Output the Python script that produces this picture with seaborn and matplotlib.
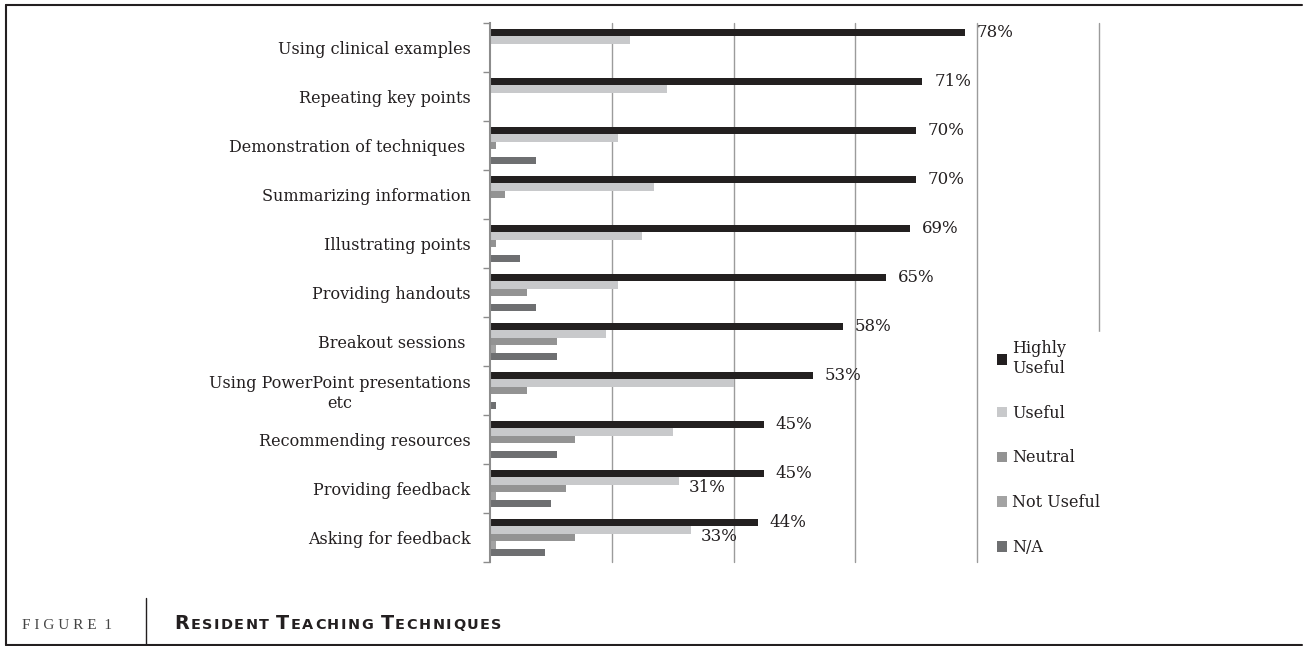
import matplotlib.pyplot as plt
import seaborn as sns
import pandas as pd
import numpy as np
from matplotlib.lines import Line2D
from matplotlib.patches import Patch

techniques = [
    "Using clinical examples",
    "Repeating key points",
    "Demonstration of techniques ",
    "Summarizing information",
    "Illustrating points",
    "Providing handouts",
    "Breakout sessions ",
    "Using PowerPoint presentations\netc",
    "Recommending resources",
    "Providing feedback",
    "Asking for feedback",
]
ratings = ["Highly Useful", "Useful", "Neutral", "Not Useful", "N/A"]

highly = [78, 71, 70, 70, 69, 65, 58, 53, 45, 45, 44]
useful = [23, 29, 21, 27, 25, 21, 19, 40, 30, 31, 33]
neutral = [0, 0, 1, 2.5, 1, 6, 11, 6, 14, 12.5, 14]
not_useful = [0, 0, 0, 0, 0, 0, 1, 0, 0, 1, 1]
na = [0, 0, 7.5, 0, 5, 7.5, 11, 1, 11, 10, 9]

# only two of the "Useful" bars carry a label in the original
useful_labels = ["", "", "", "", "", "", "", "", "", "31%", "33%"]

colors = ["#231f20", "#c8c9cb", "#939393", "#a3a3a3", "#6e6f71"]

rows = []
for rating, vals in zip(ratings, [highly, useful, neutral, not_useful, na]):
    for tech, v in zip(techniques, vals):
        rows.append({"technique": tech, "rating": rating, "pct": v})
df = pd.DataFrame(rows)

sns.set_theme(style='white')
plt.rcParams['font.family'] = ['DejaVu Serif']

W, H = 1305, 646
fig = plt.figure(figsize=(W / 100, H / 100), dpi=100)
ax = fig.add_axes([490 / W, 1 - 562 / H, 609 / W, 539 / H])

sns.barplot(data=df, x='pct', y='technique', hue='rating', order=techniques,
            hue_order=ratings, palette=colors, orient='h', width=0.77,
            linewidth=0, errorbar=None, legend=False, ax=ax)

text_color = '#231f20'
for bar, v in zip(ax.containers[0], highly):
    ax.annotate(f"{v}%", (bar.get_width(), bar.get_y() + bar.get_height() / 2),
                xytext=(8.5, 0), textcoords='offset points', va='center',
                ha='left', fontsize=12, color=text_color)
for bar, lab in zip(ax.containers[1], useful_labels):
    if lab:
        ax.annotate(lab, (bar.get_width(), bar.get_y() + bar.get_height() / 2),
                    xytext=(7, -5), textcoords='offset points', va='center',
                    ha='left', fontsize=12, color=text_color)

ax.set_xlim(0, 100)
ax.set_ylim(len(techniques) - 0.5, -0.5)
ax.set_xticks([20, 40, 60, 80, 100])
ax.set_xticklabels([])
ax.tick_params(axis='x', length=0)
ax.grid(axis='x', color='#9b9b9b', linewidth=1)
for gl in ax.get_xgridlines():
    gl.set_clip_on(False)
ax.set_axisbelow(True)
ax.set_xlabel('')
ax.set_ylabel('')

ax.tick_params(axis='y', which='major', length=0, pad=14, labelsize=11.5,
               labelcolor=text_color)
ax.set_yticks(np.arange(-0.5, len(techniques), 1), minor=True)
ax.tick_params(axis='y', which='minor', left=True, length=5, width=1,
               color='#8c8c8c')
for lbl in ax.get_yticklabels():
    lbl.set_multialignment('center')

for s in ['top', 'right', 'bottom']:
    ax.spines[s].set_visible(False)
ax.spines['left'].set_color('#8c8c8c')
ax.spines['left'].set_linewidth(1.5)

handles = [Patch(facecolor=c, edgecolor='none') for c in colors]
labels = [r.replace("Highly ", "Highly\n") for r in ratings]
ax.legend(handles, labels, loc='upper left', bbox_to_anchor=(989 / W, 1 - 332 / H),
          bbox_transform=fig.transFigure, frameon=True, facecolor='white',
          edgecolor='white', framealpha=1, fancybox=False, borderpad=0.5,
          borderaxespad=0, fontsize=11.5, handlelength=0.65, handleheight=0.65,
          handletextpad=0.3, labelspacing=1.75, labelcolor=text_color)

# figure frame and caption
line_kw = dict(color=text_color, transform=fig.transFigure)
fig.add_artist(Line2D([6 / W, 6 / W], [1 - 5 / H, 1 - 645 / H], lw=1.5, **line_kw))
fig.add_artist(Line2D([6 / W, 1302 / W], [1 - 5 / H, 1 - 5 / H], lw=1.5, **line_kw))
fig.add_artist(Line2D([6 / W, 1302 / W], [1 - 645 / H, 1 - 645 / H], lw=1.5, **line_kw))
fig.add_artist(Line2D([146 / W, 146 / W], [1 - 598 / H, 1 - 645 / H], lw=1, **line_kw))

fig.text(22 / W, 1 - 629 / H, "F I G U R E  1", family=['Liberation Serif'],
         fontsize=11, color='#444444', va='baseline')

# small-caps title, letter by letter
renderer = fig.canvas.get_renderer()
x = 174 / W
tracking = 1.5 / W
for word in "Resident Teaching Techniques".split():
    for i, ch in enumerate(word):
        size = 13.8 if i == 0 else 10.4
        t = fig.text(x, 1 - 629 / H, ch.upper(), fontsize=size, fontweight='bold',
                     family=['DejaVu Sans'], color=text_color, va='baseline')
        x += t.get_window_extent(renderer).width / W + tracking
    x += 6 / W

fig.savefig('out.png', dpi=100)
